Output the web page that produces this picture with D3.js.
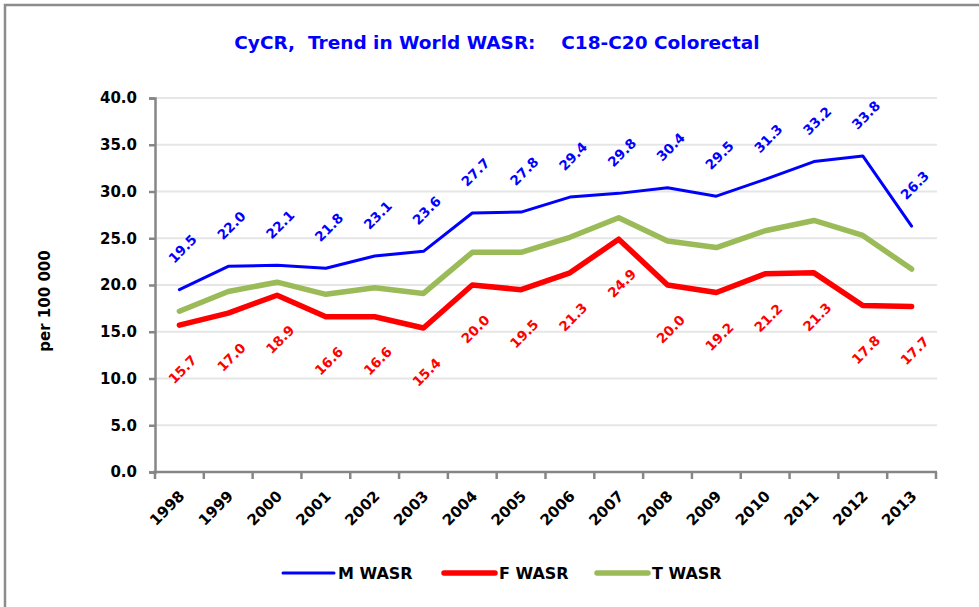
<!DOCTYPE html>
<html>
<head>
<meta charset="utf-8">
<script src="https://cdn.jsdelivr.net/npm/d3@7"></script>
<style>
  body { margin: 0; background: #fff; }
  svg text { font-family: "DejaVu Sans", sans-serif; font-weight: bold; }
</style>
</head>
<body>
<div id="chart"></div>
<script>
// chart data
var years = ["1998", "1999", "2000", "2001", "2002", "2003", "2004", "2005",
             "2006", "2007", "2008", "2009", "2010", "2011", "2012", "2013"];
var mWasr = [19.5, 22.0, 22.1, 21.8, 23.1, 23.6, 27.7, 27.8, 29.4, 29.8, 30.4, 29.5, 31.3, 33.2, 33.8, 26.3];
var fWasr = [15.7, 17.0, 18.9, 16.6, 16.6, 15.4, 20.0, 19.5, 21.3, 24.9, 20.0, 19.2, 21.2, 21.3, 17.8, 17.7];
var tWasr = [17.2, 19.3, 20.3, 19.0, 19.7, 19.1, 23.5, 23.5, 25.1, 27.2, 24.7, 24.0, 25.8, 26.9, 25.3, 21.7];
var yTicks = [0, 5, 10, 15, 20, 25, 30, 35, 40];

var width = 979,
    height = 607;

var svg = d3.select("#chart")
  .append("svg")
    .attr("width", width)
    .attr("height", height);

// frame (only top and left edges show)
svg.append("path")
  .attr("d", "M5,607 V5 H979")
  .attr("fill", "none")
  .attr("stroke", "#8c8c8c")
  .attr("stroke-width", 2.5);

// scales
var x = d3.scaleBand()
  .domain(years)
  .range([155, 936]);

var y = d3.scaleLinear()
  .domain([0, 40])
  .range([472, 98]);

var cx = function(d, i) { return x(years[i]) + x.bandwidth() / 2; };

// gridlines
svg.append("g")
  .selectAll("line")
  .data(yTicks.slice(1))
  .enter()
  .append("line")
    .attr("x1", 155)
    .attr("x2", 937)
    .attr("y1", function(d) { return y(d); })
    .attr("y2", function(d) { return y(d); })
    .attr("stroke", "#e6e6e6")
    .attr("stroke-width", 2);

// y axis
var yAxis = svg.append("g")
  .attr("transform", "translate(155,0)")
  .call(d3.axisLeft(y).tickValues(yTicks).tickSize(6).tickPadding(12).tickFormat(d3.format(".1f")));
yAxis.select(".domain").attr("stroke", "#868686").attr("stroke-width", 2.5);
yAxis.selectAll(".tick line").attr("stroke", "#868686").attr("stroke-width", 2.5);
yAxis.selectAll("text").attr("fill", "#000").style("font-size", "15px");

// x axis line and ticks at band edges
svg.append("line")
  .attr("x1", 153).attr("x2", 937)
  .attr("y1", 472).attr("y2", 472)
  .attr("stroke", "#868686").attr("stroke-width", 2.5);

svg.append("g")
  .selectAll("line")
  .data(years.concat(["end"]))
  .enter()
  .append("line")
    .attr("x1", function(d, i) { return i < years.length ? x(d) : x.range()[1]; })
    .attr("x2", function(d, i) { return i < years.length ? x(d) : x.range()[1]; })
    .attr("y1", 472)
    .attr("y2", 479)
    .attr("stroke", "#868686")
    .attr("stroke-width", 2.5);

svg.append("g")
  .selectAll("text")
  .data(years)
  .enter()
  .append("text")
    .attr("transform", function(d) { return "translate(" + (x(d) + x.bandwidth() / 2 + 6) + ",497) rotate(-45)"; })
    .attr("text-anchor", "end")
    .style("font-size", "15px")
    .text(function(d) { return d; });

// y axis title
svg.append("text")
  .attr("transform", "translate(50,301) rotate(-90)")
  .attr("text-anchor", "middle")
  .style("font-size", "15px")
  .text("per 100 000");

// title
svg.append("text")
  .attr("x", 497)
  .attr("y", 49)
  .attr("text-anchor", "middle")
  .attr("fill", "#0000ff")
  .style("font-size", "18.5px")
  .style("white-space", "pre")
  .text("CyCR,  Trend in World WASR:    C18-C20 Colorectal");

// lines
var series = [
  {name: "M WASR", values: mWasr, color: "#0000ff", width: 3},
  {name: "F WASR", values: fWasr, color: "#ff0000", width: 5.5},
  {name: "T WASR", values: tWasr, color: "#9bbb59", width: 5.5}
];

var line = d3.line()
  .x(cx)
  .y(function(d) { return y(d); });

// draw order: T, F, then M on top
var drawOrder = [series[2], series[1], series[0]];
drawOrder.forEach(function(s) {
  svg.append("path")
    .datum(s.values)
    .attr("fill", "none")
    .attr("stroke", s.color)
    .attr("stroke-width", s.width)
    .attr("stroke-linejoin", "round")
    .attr("stroke-linecap", "round")
    .attr("d", line);
});

// data labels
svg.append("g")
  .selectAll("text")
  .data(mWasr)
  .enter()
  .append("text")
    .attr("transform", function(d, i) { return "translate(" + (cx(d, i) + 3) + "," + (y(d) - 41) + ") rotate(-45)"; })
    .attr("text-anchor", "middle")
    .attr("dominant-baseline", "central")
    .attr("fill", "#0000ff")
    .style("font-size", "13.5px")
    .text(function(d) { return d.toFixed(1); });

svg.append("g")
  .selectAll("text")
  .data(fWasr)
  .enter()
  .append("text")
    .attr("transform", function(d, i) { return "translate(" + (cx(d, i) + 3) + "," + (y(d) + 44) + ") rotate(-45)"; })
    .attr("text-anchor", "middle")
    .attr("dominant-baseline", "central")
    .attr("fill", "#ff0000")
    .style("font-size", "13.5px")
    .text(function(d) { return d.toFixed(1); });

// legend
var legendX = [283, 444, 597];
var legend = svg.append("g")
  .selectAll("g")
  .data(series)
  .enter()
  .append("g")
    .attr("transform", function(d, i) { return "translate(" + legendX[i] + ",573)"; });

legend.append("line")
  .attr("x1", 0).attr("x2", 51)
  .attr("stroke", function(d) { return d.color; })
  .attr("stroke-width", function(d) { return d.width; })
  .attr("stroke-linecap", "round");

legend.append("text")
  .attr("x", 55)
  .attr("dy", "0.36em")
  .style("font-size", "16px")
  .text(function(d) { return d.name; });
</script>
</body>
</html>
